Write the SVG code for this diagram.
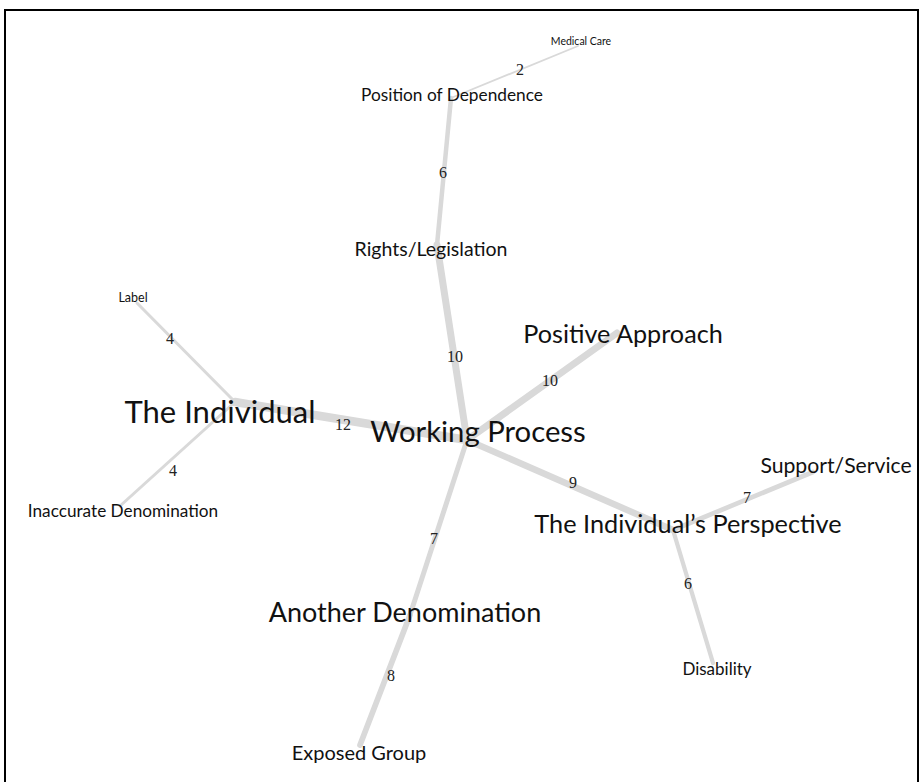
<svg xmlns="http://www.w3.org/2000/svg" width="922" height="782" viewBox="0 0 922 782">
<style>
.e{stroke:#d9d9d9;stroke-linecap:round;fill:none}
.n{font-family:Lato,"Open Sans","Liberation Sans",sans-serif;fill:#111;text-anchor:middle}
.w{font-family:"Liberation Serif","Times New Roman",serif;font-size:16px;fill:#222;text-anchor:middle}
</style>
<rect x="0" y="0" width="922" height="782" fill="#fff"/>
<rect x="5" y="10" width="913" height="790" fill="none" stroke="#000" stroke-width="2"/>
<g id="connectors">
<line class="e" x1="451" y1="98" x2="578" y2="46" stroke-width="1.8"/>
<line class="e" x1="437" y1="245" x2="451" y2="98" stroke-width="4.5"/>
<line class="e" x1="467" y1="440" x2="437" y2="245" stroke-width="7"/>
<line class="e" x1="467" y1="440" x2="617" y2="333" stroke-width="7"/>
<line class="e" x1="235" y1="402" x2="467" y2="440" stroke-width="8.5"/>
<line class="e" x1="137" y1="303" x2="235" y2="402" stroke-width="3"/>
<line class="e" x1="120" y1="506" x2="235" y2="402" stroke-width="3"/>
<line class="e" x1="467" y1="440" x2="673" y2="530" stroke-width="6.5"/>
<line class="e" x1="673" y1="530" x2="813" y2="472" stroke-width="4.7"/>
<line class="e" x1="673" y1="530" x2="713" y2="663" stroke-width="4.3"/>
<line class="e" x1="467" y1="440" x2="410" y2="615" stroke-width="5"/>
<line class="e" x1="410" y1="615" x2="360" y2="745" stroke-width="5.7"/>
<text class="w" x="520" y="75">2</text>
<text class="w" x="443" y="178">6</text>
<text class="w" x="455" y="362">10</text>
<text class="w" x="550" y="386">10</text>
<text class="w" x="343" y="430">12</text>
<text class="w" x="170" y="344">4</text>
<text class="w" x="173" y="476">4</text>
<text class="w" x="573" y="488">9</text>
<text class="w" x="747" y="503">7</text>
<text class="w" x="688" y="589">6</text>
<text class="w" x="434" y="544">7</text>
<text class="w" x="391" y="681">8</text>
</g>
<g id="medical-care"><text class="n" x="581" y="45" font-size="10.5">Medical Care</text></g>
<g id="position-of-dependence"><text class="n" x="452" y="101" font-size="17.3">Position of Dependence</text></g>
<g id="rights-legislation"><text class="n" x="431" y="256" font-size="19.5">Rights/Legislation</text></g>
<g id="label"><text class="n" x="133" y="302" font-size="12.5">Label</text></g>
<g id="the-individual"><text class="n" x="220" y="423" font-size="31">The Individual</text></g>
<g id="working-process"><text class="n" x="478" y="442" font-size="29.3">Working Process</text></g>
<g id="positive-approach"><text class="n" x="623" y="343" font-size="25.2">Positive Approach</text></g>
<g id="inaccurate-denomination"><text class="n" x="123" y="517" font-size="17.2">Inaccurate Denomination</text></g>
<g id="support-service"><text class="n" x="836" y="473" font-size="21.2">Support/Service</text></g>
<g id="individuals-perspective"><text class="n" x="688" y="533" font-size="25.3">The Individual’s Perspective</text></g>
<g id="another-denomination"><text class="n" x="405" y="622" font-size="27">Another Denomination</text></g>
<g id="disability"><text class="n" x="717" y="675" font-size="17">Disability</text></g>
<g id="exposed-group"><text class="n" x="359" y="760" font-size="20">Exposed Group</text></g>
</svg>
